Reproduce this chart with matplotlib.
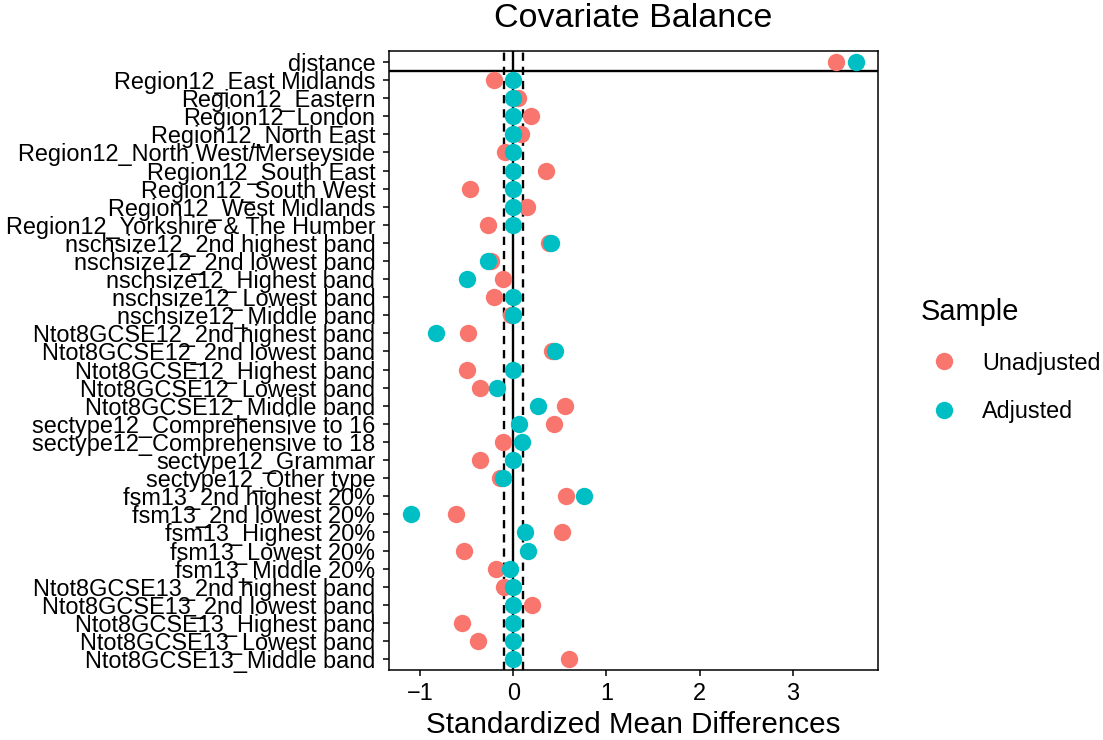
import numpy as np
import matplotlib
matplotlib.use("Agg")
import matplotlib.pyplot as plt

plt.rcParams['font.family'] = ['Liberation Sans', 'DejaVu Sans']

# covariates, top to bottom
covariates = [
    "distance",
    "Region12_East Midlands",
    "Region12_Eastern",
    "Region12_London",
    "Region12_North East",
    "Region12_North West/Merseyside",
    "Region12_South East",
    "Region12_South West",
    "Region12_West Midlands",
    "Region12_Yorkshire & The Humber",
    "nschsize12_2nd highest band",
    "nschsize12_2nd lowest band",
    "nschsize12_Highest band",
    "nschsize12_Lowest band",
    "nschsize12_Middle band",
    "Ntot8GCSE12_2nd highest band",
    "Ntot8GCSE12_2nd lowest band",
    "Ntot8GCSE12_Highest band",
    "Ntot8GCSE12_Lowest band",
    "Ntot8GCSE12_Middle band",
    "sectype12_Comprehensive to 16",
    "sectype12_Comprehensive to 18",
    "sectype12_Grammar",
    "sectype12_Other type",
    "fsm13_2nd highest 20%",
    "fsm13_2nd lowest 20%",
    "fsm13_Highest 20%",
    "fsm13_Lowest 20%",
    "fsm13_Middle 20%",
    "Ntot8GCSE13_2nd highest band",
    "Ntot8GCSE13_2nd lowest band",
    "Ntot8GCSE13_Highest band",
    "Ntot8GCSE13_Lowest band",
    "Ntot8GCSE13_Middle band",
]

unadjusted = [
    3.46, -0.21, 0.05, 0.19, 0.08, -0.09, 0.35, -0.46, 0.15, -0.27,
    0.38, -0.24, -0.11, -0.21, -0.03, -0.49, 0.42, -0.50, -0.36, 0.55,
    0.44, -0.11, -0.36, -0.14, 0.57, -0.61, 0.52, -0.53, -0.19, -0.10,
    0.20, -0.55, -0.38, 0.60,
]

adjusted = [
    3.68, 0.0, 0.0, 0.0, 0.0, 0.0, 0.0, 0.0, 0.0, 0.0,
    0.40, -0.27, -0.50, 0.0, 0.0, -0.83, 0.45, 0.0, -0.18, 0.26,
    0.06, 0.09, 0.0, -0.11, 0.76, -1.10, 0.13, 0.16, -0.04, 0.0,
    0.0, 0.0, 0.0, 0.0,
]

threshold = 0.1

n = len(covariates)
ypos = np.arange(n, 0, -1)

fig = plt.figure(figsize=(11.03, 7.4), dpi=100)
ax = fig.add_axes([0.353, 0.0946, 0.4427, 0.8364])

ax.axvline(0, color='black', lw=1.7, zorder=1)
ax.axvline(-threshold, color='black', lw=1.7, ls=(0, (3.5, 2.5)), zorder=1)
ax.axvline(threshold, color='black', lw=1.7, ls=(0, (3.5, 2.5)), zorder=1)
ax.axhline(n - 0.5, color='black', lw=1.7, zorder=1)

ax.plot(unadjusted, ypos, 'o', color='#F8766D', ms=12.5, mec='none',
        label='Unadjusted', zorder=2)
ax.plot(adjusted, ypos, 'o', color='#00BFC4', ms=12.5, mec='none',
        label='Adjusted', zorder=3)

ax.set_xlim(-1.33, 3.91)
ax.set_ylim(0.4, n + 0.6)
ax.set_xticks([-1, 0, 1, 2, 3])
ax.set_yticks(ypos)
ax.set_yticklabels(covariates)
ax.tick_params(axis='both', labelsize=16.9, colors='black', length=4, width=1.1)
ax.tick_params(axis='y', pad=6)
ax.tick_params(axis='x', pad=5)
for s in ax.spines.values():
    s.set_linewidth(1.1)

ax.set_xlabel("Standardized Mean Differences", fontsize=21.3, labelpad=4)
ax.set_title("Covariate Balance", fontsize=24.5, pad=17)

leg = ax.legend(title="Sample", loc='center left', bbox_to_anchor=(1.045, 0.50),
                frameon=False, fontsize=16.8, title_fontsize=20.9,
                handletextpad=0.62, labelspacing=1.1, markerscale=1.0)
leg._legend_box.align = "left"

fig.savefig("out.png", dpi=100)
